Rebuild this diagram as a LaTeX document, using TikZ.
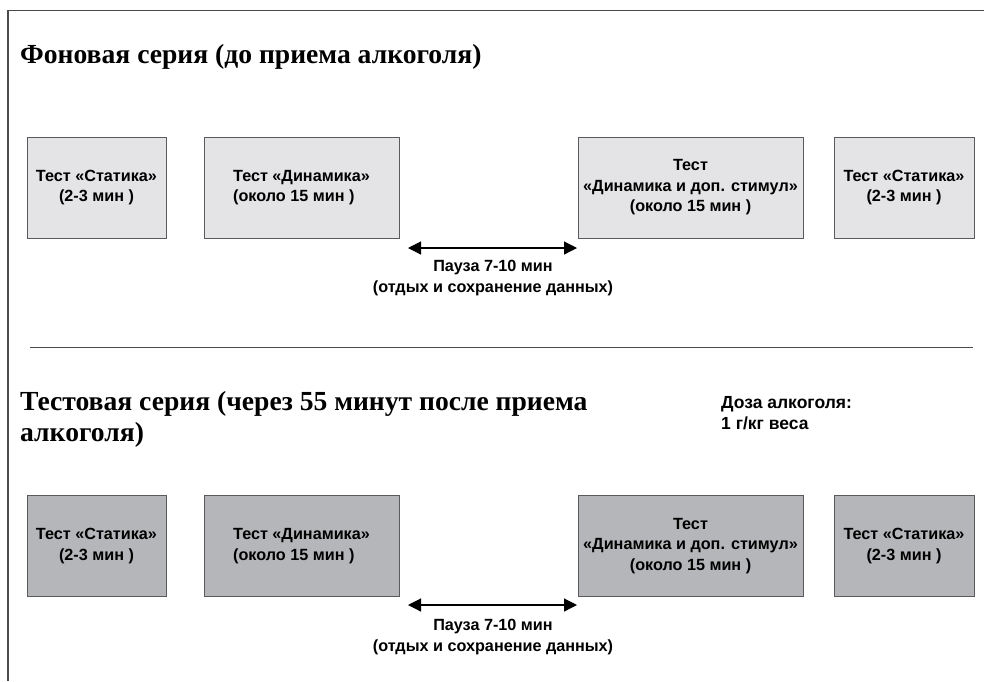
\documentclass[tikz,border=0pt]{standalone}
\usepackage{fontspec}
\usepackage{xcolor}
\usepackage{tikz}
\usetikzlibrary{arrows.meta}
\usetikzlibrary{positioning}
\setmainfont{Liberation Serif}
\setsansfont{Liberation Sans}
\definecolor{framecol}{HTML}{4A4A4A}
\definecolor{boxline}{HTML}{5A5A5C}
\definecolor{lightbox}{HTML}{E4E4E6}
\definecolor{darkbox}{HTML}{B5B6B9}
\newcommand{\titlefont}{\fontsize{27.6}{31}\selectfont\bfseries\rmfamily}
\newcommand{\boxfont}{\fontsize{16.2}{20.5}\selectfont\bfseries\sffamily}

\begin{document}
\begin{tikzpicture}[x=1pt,y=-1pt,
    test/.style={draw=boxline,line width=0.9pt,minimum height=101pt,align=center,inner sep=2pt,font=\boxfont},
    before/.style={test,fill=lightbox},
    after/.style={test,fill=darkbox},
    pause arrow/.style={{Triangle[length=13pt,width=13pt]}-{Triangle[length=13pt,width=13pt]},line width=1.2pt,black},
    note/.style={align=center,font=\boxfont}]
  \useasboundingbox (0,0) rectangle (984,681);
  \draw[framecol,line width=1.5pt] (984,10.5) -- (8,10.5) -- (8,681);
  \draw[framecol,line width=1pt] (30,347) -- (973,347);

  % background series
  \node[anchor=base west,inner sep=0pt,font=\titlefont] (title1) at (20,63) {Фоновая серия (до приема алкоголя)};
  \begin{scope}
    \node[before,minimum width=139pt] (s1) at (96.5,187.5) {Тест «Статика»\\(2-3 мин )};
    \node[before,minimum width=195pt,align=left] (d1) at (301.5,187.5) {Тест «Динамика»\\(около 15 мин )};
    \node[before,minimum width=225pt] (ds1) at (690.5,187.5) {Тест\\«Динамика и доп. стимул»\\(около 15 мин )};
    \node[before,minimum width=140pt] (e1) at (904,187.5) {Тест «Статика»\\(2-3 мин )};
  \end{scope}
  \coordinate (pa1) at (408,248);
  \coordinate (pb1) at (577,248);
  \draw[pause arrow] (pa1) -- (pb1);
  \node[note] (p1) at (493,278) {Пауза 7-10 мин\\(отдых и сохранение данных)};

  % test series
  \node[anchor=north west,inner sep=0pt,align=left,font=\titlefont] (title2) at (20,391) {Тестовая серия (через 55 минут после приема\\алкоголя)};
  \node[anchor=north west,inner sep=0pt,align=left,font=\fontsize{17.5}{21.5}\selectfont\bfseries\sffamily] (dose) at (721,396) {Доза алкоголя:\\1 г/кг веса};
  \begin{scope}
    \node[after,minimum width=139pt] (s2) at (96.5,546) {Тест «Статика»\\(2-3 мин )};
    \node[after,minimum width=195pt,align=left] (d2) at (301.5,546) {Тест «Динамика»\\(около 15 мин )};
    \node[after,minimum width=225pt] (ds2) at (690.5,546) {Тест\\«Динамика и доп. стимул»\\(около 15 мин )};
    \node[after,minimum width=140pt] (e2) at (904,546) {Тест «Статика»\\(2-3 мин )};
  \end{scope}
  \coordinate (pa2) at (408,605);
  \coordinate (pb2) at (577,605);
  \draw[pause arrow] (pa2) -- (pb2);
  \node[note] (p2) at (493,637) {Пауза 7-10 мин\\(отдых и сохранение данных)};
\end{tikzpicture}
\end{document}
